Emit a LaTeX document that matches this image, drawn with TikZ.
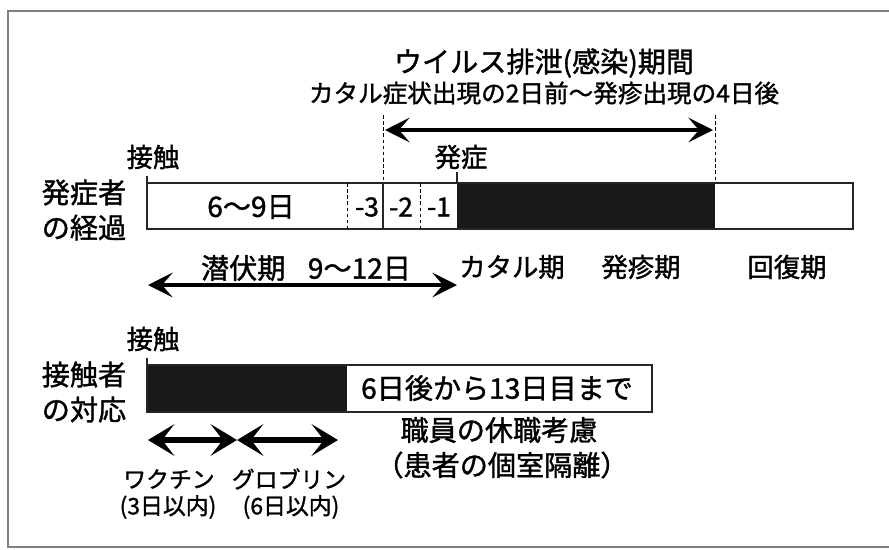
\documentclass[tikz,border=0pt]{standalone}
\usepackage{fontspec}
\setmainfont{Noto Sans CJK JP}[AutoFakeBold=1.3]
\usetikzlibrary{arrows.meta}

\begin{document}
\begin{tikzpicture}[x=0.2mm,y=-0.2mm,
  lbl/.style={inner sep=0pt, font=\fontsize{15}{18}\selectfont\bfseries},
  big/.style={inner sep=0pt, font=\fontsize{16}{20}\selectfont\bfseries, align=center},
  sml/.style={inner sep=0pt, font=\fontsize{13}{15}\selectfont\bfseries},
  span/.style={line width=2.2pt, {Stealth[length=14pt,width=14pt,inset=6pt]}-{Stealth[length=14pt,width=14pt,inset=6pt]}},
  fat/.style={line width=3.5pt, {Stealth[length=15pt,width=18pt,inset=7pt]}-{Stealth[length=15pt,width=18pt,inset=7pt]}},
  cut/.style={dash pattern=on 2pt off 1.5pt, line width=0.5pt},
  bar/.style={draw=black!85, line width=0.8pt}]
\useasboundingbox (0,0) rectangle (889,549);
% frame
\draw[gray, line width=1pt] (889,11) -- (8,11) -- (8,547) -- (889,547);

% shedding period
\node[lbl, font=\fontsize{16}{18}\selectfont\bfseries] (shed) at (544,63) {ウイルス排泄(感染)期間};
\node[lbl, font=\fontsize{14}{16}\selectfont\bfseries] (shedday) at (544,93) {カタル症状出現の2日前～発疹出現の4日後};
\coordinate (shedL) at (383,115);
\coordinate (shedR) at (715,115);
\coordinate (shedLb) at (383,183);
\coordinate (shedRb) at (715,183);
\draw[cut] (shedL) -- (shedLb);
\draw[cut] (shedR) -- (shedRb);
\coordinate (sL) at (385,130);
\coordinate (sR) at (713,130);
\draw[span] (sL) -- (sR);

% patient course
\node[big] (patient) at (84,210) {発症者\\の経過};
\node[lbl] (contact) at (153,157) {接触};
\node[lbl] (onset) at (461,157) {発症};
\fill[black!90] (457,183) rectangle (715,229);
\draw[bar] (147,183) rectangle (853,229);
\draw[cut] (347,183) -- (347,229);
\draw[cut] (420,183) -- (420,229);
\draw[bar] (shedLb) -- (383,229);
\coordinate (contactA) at (147,183);
\coordinate (onsetA) at (457,183);
\draw[bar] (contactA) -- ++(0,-7);
\draw[bar] (onsetA) -- ++(0,-11);
\node[big] (incday) at (251,207) {6～9日};
\node[lbl] (m3) at (367,207) {-3};
\node[lbl] (m2) at (401,207) {-2};
\node[lbl] (m1) at (439,207) {-1};

\node[big] (incub) at (306,268) {潜伏期\hspace{0.8em}9～12日};
\node[lbl] (catarrh) at (512,267) {カタル期};
\node[lbl] (rash) at (641,267) {発疹期};
\node[lbl] (recov) at (787,267) {回復期};
\coordinate (iL) at (148,285);
\coordinate (iR) at (457,285);
\draw[span] (iL) -- (iR);

% contact response
\node[big] (contactee) at (84,392) {接触者\\の対応};
\node[lbl] (contact2) at (153,339) {接触};
\fill[black!90] (147,365) rectangle (347,412);
\draw[bar] (147,365) rectangle (652,412);
\coordinate (contactB) at (147,365);
\draw[bar] (contactB) -- ++(0,-7);
\node[big] (leave) at (497,388) {6日後から13日目まで};
\node[big] (staff) at (499,430) {職員の休職考慮};
\node[big] (isol) at (502,465) {（患者の個室隔離）};

\coordinate (a0) at (148,440);
\coordinate (a1) at (237,440);
\coordinate (a2) at (338,440);
\draw[fat] (a0) -- (a1);
\draw[fat] (a1) -- (a2);
\node[sml] (vacc) at (169,479) {ワクチン};
\node[sml] (vacc3) at (168,507) {(3日以内)};
\node[sml] (glob) at (289,479) {グロブリン};
\node[sml] (glob6) at (291,507) {(6日以内)};
\end{tikzpicture}
\end{document}
